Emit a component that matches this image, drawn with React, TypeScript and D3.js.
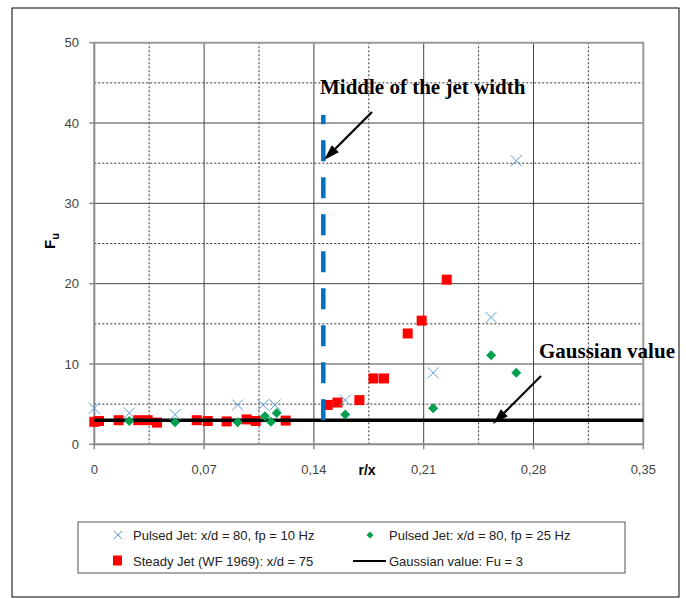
import * as d3 from 'd3'

// r/x, Fu pairs
const pulsed10: [number, number][] = [
  [0, 4.5], [0.0223, 3.9], [0.0515, 3.7], [0.0914, 4.9], [0.1077, 4.9], [0.1152, 4.9],
  [0.16, 5.5], [0.216, 8.9], [0.253, 15.8], [0.269, 35.3],
]
const pulsed25: [number, number][] = [
  [0.0223, 2.9], [0.0515, 2.75], [0.0914, 2.75], [0.1088, 3.5], [0.1126, 2.8], [0.1163, 3.9],
  [0.16, 3.7], [0.216, 4.5], [0.253, 11.1], [0.269, 8.9],
]
const steady: [number, number][] = [
  [0, 2.8], [0.003, 2.9], [0.0155, 3.0], [0.028, 3.0], [0.034, 3.0], [0.04, 2.7],
  [0.0653, 3.0], [0.0723, 2.9], [0.0844, 2.85], [0.0971, 3.1], [0.1029, 2.9], [0.122, 2.95],
  [0.1488, 4.9], [0.155, 5.2], [0.169, 5.5], [0.178, 8.2], [0.1847, 8.2], [0.1998, 13.8],
  [0.2087, 15.4], [0.2247, 20.5],
]
const gaussianFu = 3
const jetMiddle = 0.146
const jetRange = [3, 41]

const xMajor = [0, 0.07, 0.14, 0.21, 0.28, 0.35]
const xMinor = [0.035, 0.105, 0.175, 0.245, 0.315]
const yMajor = [0, 10, 20, 30, 40, 50]
const yMinor = [5, 15, 25, 35, 45]

const legendItems = [
  'Pulsed Jet: x/d = 80, fp = 10 Hz',
  'Pulsed Jet: x/d = 80, fp = 25 Hz',
  'Steady Jet (WF 1969): x/d = 75',
  'Gaussian value: Fu = 3',
]

const W = 686
const H = 599
const x = d3.scaleLinear().domain([0, 0.35]).range([94.3, 643.3])
const y = d3.scaleLinear().domain([0, 50]).range([444.3, 42.7])

const SANS = 'Liberation Sans, Arial, sans-serif'
const SERIF = 'Liberation Serif, Times New Roman, serif'
const CROSS = '#5b9bd5'
const GREEN = '#00a050'
const RED = '#ff0000'

const fmt = (v: number) => (v === 0 ? '0' : v.toFixed(2).replace('.', ','))

function Cross({ cx, cy, r = 5.5 }: { cx: number; cy: number; r?: number }) {
  return (
    <g stroke={CROSS} strokeWidth={1}>
      <line x1={cx - r} y1={cy - r} x2={cx + r} y2={cy + r} />
      <line x1={cx - r} y1={cy + r} x2={cx + r} y2={cy - r} />
    </g>
  )
}

function Diamond({ cx, cy, r = 5 }: { cx: number; cy: number; r?: number }) {
  return <path d={`M${cx},${cy - r}L${cx + r},${cy}L${cx},${cy + r}L${cx - r},${cy}Z`} fill={GREEN} />
}

function Arrow({ x1, y1, x2, y2 }: { x1: number; y1: number; x2: number; y2: number }) {
  const ang = Math.atan2(y2 - y1, x2 - x1)
  const len = 16
  const half = 5
  const bx = x2 - len * Math.cos(ang)
  const by = y2 - len * Math.sin(ang)
  const px = -Math.sin(ang) * half
  const py = Math.cos(ang) * half
  return (
    <g>
      <line x1={x1} y1={y1} x2={bx} y2={by} stroke="#000" strokeWidth={2.2} />
      <path d={`M${x2},${y2}L${bx + px},${by + py}L${bx - px},${by - py}Z`} fill="#000" />
    </g>
  )
}

export default function App() {
  const x0 = x(0)
  const x1 = x(0.35)
  const y0 = y(0)
  const y1 = y(50)
  const gauss = d3.line<number>().x(d => x(d)).y(() => y(gaussianFu))

  return (
    <svg width={W} height={H} style={{ position: 'absolute', left: 0, top: 0, background: '#fff' }}>
      <rect x={12} y={8} width={667} height={589} fill="#fff" stroke="#000" strokeWidth={1} />

      {/* grid */}
      {xMajor.slice(1, -1).map(v => (
        <line key={'xM' + v} x1={x(v)} x2={x(v)} y1={y0} y2={y1} stroke="#444" strokeWidth={1} />
      ))}
      {xMinor.map(v => (
        <line key={'xm' + v} x1={x(v)} x2={x(v)} y1={y0} y2={y1} stroke="#333" strokeWidth={1} strokeDasharray="2,2" />
      ))}
      {yMajor.slice(1, -1).map(v => (
        <line key={'yM' + v} x1={x0} x2={x1} y1={y(v)} y2={y(v)} stroke="#444" strokeWidth={1} />
      ))}
      {yMinor.map(v => (
        <line key={'ym' + v} x1={x0} x2={x1} y1={y(v)} y2={y(v)} stroke="#333" strokeWidth={1} strokeDasharray="2,2" />
      ))}
      <path d={`M${x0},${y1}H${x1}V${y0}`} fill="none" stroke="#999" strokeWidth={2} />

      {/* axes */}
      <path d={`M${x0},${y1}V${y0}H${x1}`} fill="none" stroke="#888" strokeWidth={2} />
      {yMajor.map(v => (
        <g key={'yt' + v}>
          <line x1={x0 - 5} x2={x0} y1={y(v)} y2={y(v)} stroke="#888" strokeWidth={1.5} />
          <text x={79} y={y(v)} dy="0.35em" textAnchor="end" fontFamily={SANS} fontSize={13} fill="#444">
            {v}
          </text>
        </g>
      ))}
      {xMajor.map(v => (
        <g key={'xt' + v}>
          <line x1={x(v)} x2={x(v)} y1={y0} y2={y0 + 5} stroke="#888" strokeWidth={1.5} />
          <text x={x(v)} y={469} dy="0.35em" textAnchor="middle" fontFamily={SANS} fontSize={13} fill="#444">
            {fmt(v)}
          </text>
        </g>
      ))}
      <text x={367} y={470} dy="0.35em" textAnchor="middle" fontFamily={SANS} fontSize={14} fontWeight="bold">
        r/x
      </text>
      <text transform="translate(55,241) rotate(-90)" textAnchor="middle" fontFamily={SANS} fontSize={15} fontWeight="bold">
        F<tspan fontSize={11} dy={4}>u</tspan>
      </text>

      {/* data */}
      {steady.map(([a, b], i) => (
        <rect key={'s' + i} x={x(a) - 5} y={y(b) - 5} width={10} height={10} fill={RED} />
      ))}
      <path d={gauss([0, 0.35]) ?? ''} stroke="#000" strokeWidth={3.5} fill="none" />
      <line x1={x(jetMiddle)} x2={x(jetMiddle)} y1={y(jetRange[0])} y2={y(jetRange[1])}
        stroke="#0070c0" strokeWidth={4.5} strokeDasharray="21,16" />
      {pulsed25.map(([a, b], i) => (
        <Diamond key={'d' + i} cx={x(a)} cy={y(b)} />
      ))}
      {pulsed10.map(([a, b], i) => (
        <Cross key={'c' + i} cx={x(a)} cy={y(b)} />
      ))}

      {/* annotations */}
      <text x={320} y={94} fontFamily={SERIF} fontSize={21} fontWeight="bold">Middle of the jet width</text>
      <Arrow x1={372} y1={112} x2={324} y2={160} />
      <text x={539} y={358} fontFamily={SERIF} fontSize={21} fontWeight="bold">Gaussian value</text>
      <Arrow x1={541} y1={376} x2={493} y2={424} />

      {/* legend */}
      <rect x={78} y={522} width={547} height={51} fill="#fff" stroke="#555" strokeWidth={1} />
      <Cross cx={118} cy={535} r={4} />
      <text x={133} y={535} dy="0.35em" fontFamily={SANS} fontSize={13} fill="#222">{legendItems[0]}</text>
      <Diamond cx={370} cy={535} r={3.5} />
      <text x={389} y={535} dy="0.35em" fontFamily={SANS} fontSize={13} fill="#222">{legendItems[1]}</text>
      <rect x={113} y={555.5} width={9} height={10} fill={RED} />
      <text x={133} y={561} dy="0.35em" fontFamily={SANS} fontSize={13} fill="#222">{legendItems[2]}</text>
      <line x1={353} x2={386} y1={561} y2={561} stroke="#000" strokeWidth={2} />
      <text x={389} y={561} dy="0.35em" fontFamily={SANS} fontSize={13} fill="#222">{legendItems[3]}</text>
    </svg>
  )
}
